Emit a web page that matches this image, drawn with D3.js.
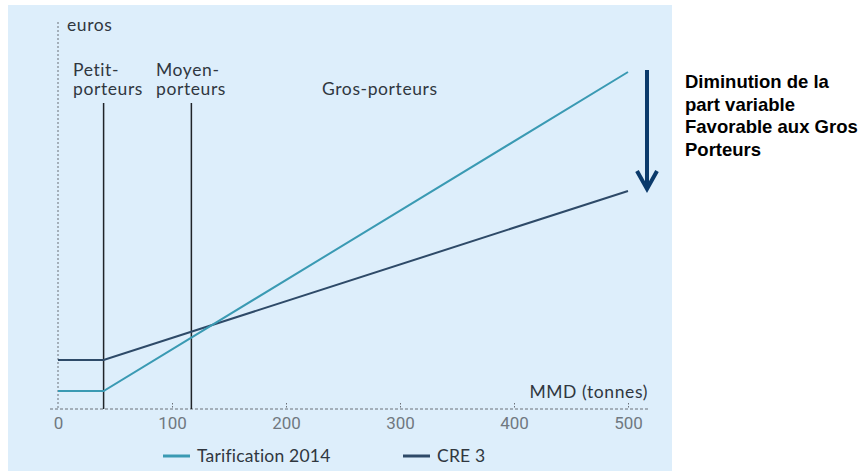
<!DOCTYPE html>
<html lang="fr">
<head>
<meta charset="utf-8">
<title>Tarification 2014 vs CRE 3</title>
<style>
  body, html { margin: 0; background: #fff; overflow: hidden; }
  svg { display: block; }
  .lab { font-family: Lato, "Open Sans", sans-serif; fill: #30373f; letter-spacing: 0.6px; }
  .tick text { font-family: "Liberation Sans Narrow", "Roboto", sans-serif; fill: #707880; }
  .note { font-family: "Liberation Sans", Arial, sans-serif; font-weight: bold; fill: #000; }
</style>
<script src="https://d3js.org/d3.v7.min.js"></script>
</head>
<body>
<svg width="861" height="471"></svg>
<script>
// data (x in tonnes, y in arbitrary euros)
const mmdTicks = [0, 100, 200, 300, 400, 500];
const tarif2014 = [[0, 18], [40, 18], [500, 337]];
const cre3 = [[0, 49], [40, 49], [500, 218]];
const segments = [40, 117];   // limits petit / moyen / gros porteurs
const noteLines = ["Diminution de la", "part variable", "Favorable aux Gros", "Porteurs"];

const svg = d3.select("svg");

// panel background
svg.append("rect")
    .attr("x", 8).attr("y", 5)
    .attr("width", 664).attr("height", 466)
    .attr("fill", "#ddeefb");

const x = d3.scaleLinear().domain([0, 500]).range([58, 628]);
const y = d3.scaleLinear().domain([0, 400]).range([409, 9]);

// dashed axes
svg.append("line")
    .attr("x1", 50).attr("x2", 650)
    .attr("y1", y(0)).attr("y2", y(0))
    .attr("stroke", "#6a7078").attr("stroke-width", 1)
    .attr("stroke-dasharray", "3,2");
svg.append("line")
    .attr("x1", x(0)).attr("x2", x(0))
    .attr("y1", 22).attr("y2", y(0))
    .attr("stroke", "#6a7078").attr("stroke-width", 1)
    .attr("stroke-dasharray", "2,2");

const xAxis = svg.append("g")
    .attr("transform", `translate(0,${y(0)})`)
    .call(d3.axisBottom(x).tickValues(mmdTicks).tickSize(0).tickPadding(8));
xAxis.select(".domain").remove();
xAxis.selectAll(".tick text").attr("font-size", 17);
// little dotted tick marks above the axis
xAxis.selectAll(".tick").filter(d => d > 0).append("line")
    .attr("y1", -6).attr("y2", 0)
    .attr("stroke", "#6a7078").attr("stroke-dasharray", "1.5,1.5");

// segment limits
svg.selectAll(".seg")
    .data(segments)
    .join("line")
    .attr("class", "seg")
    .attr("x1", d => x(d)).attr("x2", d => x(d))
    .attr("y1", 103).attr("y2", y(0))
    .attr("stroke", "#1f2328").attr("stroke-width", 1.5);

const line = d3.line().x(d => x(d[0])).y(d => y(d[1]));

svg.append("path").datum(cre3)
    .attr("d", line).attr("fill", "none")
    .attr("stroke", "#2e4a68").attr("stroke-width", 2);
svg.append("path").datum(tarif2014)
    .attr("d", line).attr("fill", "none")
    .attr("stroke", "#3a9ab3").attr("stroke-width", 2);

// labels
const labels = [
    { t: "euros", x: 67, y: 31 },
    { t: "Petit-", x: 73, y: 76 },
    { t: "porteurs", x: 73, y: 95 },
    { t: "Moyen-", x: 156, y: 76 },
    { t: "porteurs", x: 156, y: 95 },
    { t: "Gros-porteurs", x: 322, y: 95 }
];
svg.selectAll(".lbl")
    .data(labels)
    .join("text")
    .attr("class", "lab lbl")
    .attr("x", d => d.x).attr("y", d => d.y)
    .attr("font-size", 17.5)
    .text(d => d.t);

svg.append("text").attr("class", "lab")
    .attr("x", 648).attr("y", 398)
    .attr("text-anchor", "end")
    .attr("font-size", 17.5)
    .text("MMD (tonnes)");

// legend
const legend = [
    { name: "Tarification 2014", color: "#3a9ab3", x: 163 },
    { name: "CRE 3", color: "#2e4a68", x: 403 }
];
const lg = svg.selectAll(".leg").data(legend).join("g").attr("class", "leg")
    .attr("transform", d => `translate(${d.x},456)`);
lg.append("line").attr("x1", 0).attr("x2", 27)
    .attr("stroke", d => d.color).attr("stroke-width", 3);
lg.append("text").attr("class", "lab")
    .attr("x", 34).attr("y", 6)
    .attr("font-size", 17.5)
    .style("letter-spacing", "0.2px")
    .text(d => d.name);

// arrow
const arrowColor = "#0b3a6b";
svg.append("line")
    .attr("x1", 647).attr("x2", 647)
    .attr("y1", 70).attr("y2", 189)
    .attr("stroke", arrowColor).attr("stroke-width", 4);
svg.append("path")
    .attr("d", "M637,171 L647,189 L657,171")
    .attr("fill", "none")
    .attr("stroke", arrowColor).attr("stroke-width", 4)
    .attr("stroke-linejoin", "miter");

// annotation
svg.append("text").attr("class", "note")
    .attr("font-size", 18.5)
    .selectAll("tspan")
    .data(noteLines)
    .join("tspan")
    .attr("x", 685)
    .attr("y", (d, i) => 88 + i * 22.5)
    .text(d => d);
</script>
</body>
</html>
